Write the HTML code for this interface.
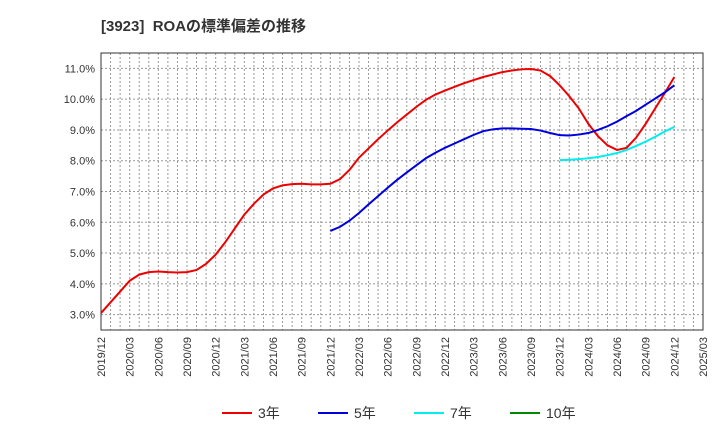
<!DOCTYPE html>
<html><head><meta charset="utf-8"><style>
body{margin:0;background:#fff;width:720px;height:440px;overflow:hidden;font-family:"Liberation Sans","Noto Sans CJK JP",sans-serif}
</style></head><body>
<svg width="720" height="440" id="c" style="font-family:'Liberation Sans','Noto Sans CJK JP',sans-serif">
<text x="101" y="31" font-size="15" font-weight="bold" fill="#333">[3923]&#160; ROAの標準偏差の推移</text>
</svg>
<script>
const yTicks=[3,4,5,6,7,8,9,10,11];
const xLabels=["2019/12","2020/03","2020/06","2020/09","2020/12","2021/03","2021/06","2021/09","2021/12","2022/03","2022/06","2022/09","2022/12","2023/03","2023/06","2023/09","2023/12","2024/03","2024/06","2024/09","2024/12","2025/03"];
const s3=[3.05,3.4,3.75,4.1,4.3,4.38,4.4,4.38,4.37,4.38,4.45,4.65,4.95,5.35,5.8,6.25,6.6,6.9,7.1,7.2,7.24,7.25,7.23,7.23,7.25,7.4,7.7,8.1,8.4,8.7,8.98,9.25,9.5,9.75,9.98,10.15,10.28,10.4,10.52,10.62,10.72,10.8,10.88,10.93,10.97,10.98,10.93,10.75,10.45,10.1,9.7,9.2,8.8,8.5,8.35,8.42,8.75,9.2,9.7,10.2,10.72];
const s5=[5.72,5.85,6.05,6.3,6.58,6.85,7.12,7.38,7.62,7.85,8.08,8.26,8.42,8.56,8.7,8.84,8.96,9.02,9.05,9.05,9.04,9.03,8.98,8.9,8.83,8.82,8.85,8.9,9.0,9.12,9.27,9.45,9.62,9.82,10.02,10.22,10.45];
const s7=[8.02,8.03,8.05,8.08,8.12,8.18,8.25,8.35,8.48,8.62,8.78,8.95,9.1];
const s5start=24, s7start=48;
const L=101,R=703,T=53,B=330,yMin=2.5,yMax=11.5,nMonths=63;
const X=m=>L+(R-L)*m/nMonths, Y=v=>B-(B-T)*(v-yMin)/(yMax-yMin);
const svg=document.getElementById('c'),NS="http://www.w3.org/2000/svg";
function mk(t,a,p){const e=document.createElementNS(NS,t);for(const k in a)e.setAttribute(k,a[k]);(p||svg).appendChild(e);return e;}
for(let m=1;m<nMonths;m++){const l=mk('line',{x1:X(m),x2:X(m),y1:T,y2:B,stroke:'#999','stroke-dasharray':'2,2','stroke-width':1});

}
yTicks.forEach(v=>{const l=mk('line',{x1:L,x2:R,y1:Y(v),y2:Y(v),stroke:'#999','stroke-dasharray':'2,2'});


const t=mk('text',{x:L-6,y:Y(v)+4,'text-anchor':'end','font-size':11,fill:'#333'});t.textContent=v.toFixed(1)+'%';

});
xLabels.forEach((s,i)=>{const x=X(i*3);const t=mk('text',{x:0,y:0,transform:`translate(${x+4},${B+7}) rotate(-90)`,'text-anchor':'end','font-size':11,fill:'#333'});t.textContent=s;

});
const fr=mk('rect',{x:L,y:T,width:R-L,height:B-T,fill:'none',stroke:'#333'});


function series(d,st,c,n){const p=mk('polyline',{points:d.map((v,i)=>X(st+i)+','+Y(v)).join(' '),fill:'none',stroke:c,'stroke-width':2});

}
series(s3,0,'#e00','series-3y');series(s5,s5start,'#00d','series-5y');series(s7,s7start,'#0ee','series-7y');
const leg=[['3年','#e00',222],['5年','#00d',318],['7年','#0ee',414],['10年','#080',510]];
leg.forEach(([n,c,x])=>{const g=mk('g',{});


mk('line',{x1:x,x2:x+30,y1:413,y2:413,stroke:c,'stroke-width':2},g);
const t=mk('text',{x:x+36,y:418,'font-size':14,fill:'#333'},g);t.textContent=n;});
</script>
</body></html>
